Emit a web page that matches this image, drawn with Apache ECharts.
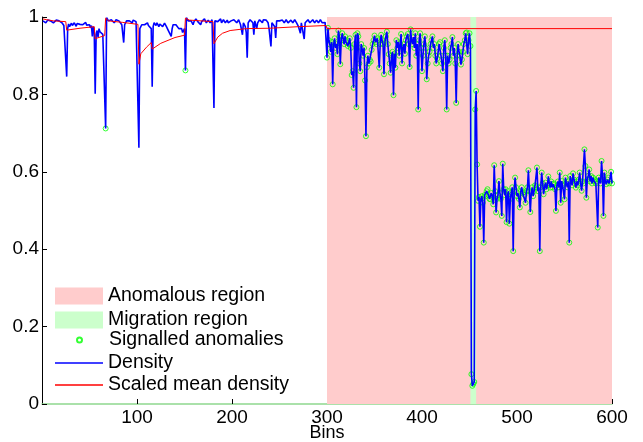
<!DOCTYPE html>
<html>
<head>
<meta charset="utf-8">
<script src="https://cdn.jsdelivr.net/npm/echarts@6/dist/echarts.min.js"></script>
<style>html,body{margin:0;padding:0;background:#fff;}#c{width:643px;height:442px;}</style>
</head>
<body>
<div id="c"></div>
<script>
// Density per bin (bins 1..600)
var density = [
0.99,0.995,0.993,0.985,0.99,0.992,0.988,0.994,0.99,0.986,0.99,0.985,0.988,0.99,0.992,0.989,0.987,0.99,0.991,0.99,
0.985,0.98,0.978,0.983,0.975,0.846,0.97,0.982,0.975,0.98,0.984,0.978,0.982,0.985,0.98,0.976,0.983,0.98,0.985,0.981,
0.978,0.984,0.98,0.976,0.982,0.986,0.979,0.983,0.975,0.98,0.972,0.978,0.95,0.975,0.96,0.802,0.955,0.965,0.948,0.97,
0.962,0.958,0.965,0.955,0.96,0.95,0.712,0.998,0.995,0.99,0.992,0.988,0.993,0.995,0.99,0.985,0.99,0.993,0.988,0.992,
0.99,0.985,0.988,0.98,0.975,0.934,0.98,0.985,0.99,0.992,0.988,0.99,0.993,0.99,0.985,0.992,0.99,0.995,0.988,0.99,
0.985,0.662,0.97,0.975,0.98,0.978,0.985,0.98,0.976,0.982,0.985,0.978,0.975,0.98,0.97,0.82,0.975,0.985,0.98,0.978,
0.985,0.98,0.975,0.982,0.986,0.98,0.975,0.978,0.984,0.98,0.975,0.97,0.965,0.97,0.96,0.95,0.97,0.98,0.975,0.985,
0.98,0.975,0.978,0.97,0.965,0.975,0.97,0.96,0.958,0.97,0.862,0.998,0.995,0.99,0.993,0.985,0.99,0.985,0.98,0.988,
0.993,0.995,0.99,0.988,0.992,0.985,0.98,0.988,0.993,0.99,0.995,0.99,0.985,0.99,0.992,0.988,0.985,0.99,0.993,0.99,
0.765,0.99,0.995,0.992,0.988,0.993,0.99,0.995,0.985,0.99,0.993,0.988,0.985,0.99,0.992,0.985,0.98,0.988,0.99,0.985,
0.99,0.993,0.988,0.99,0.985,0.99,0.993,0.988,0.98,0.975,0.954,0.985,0.99,0.975,0.96,0.895,0.985,0.99,0.993,0.988,
0.99,0.985,0.954,0.99,0.993,0.97,0.985,0.99,0.993,0.988,0.99,0.985,0.993,0.99,0.988,0.992,0.99,0.985,0.97,0.975,
0.924,0.985,0.99,0.988,0.975,0.946,0.99,0.993,0.988,0.99,0.985,0.99,0.992,0.988,0.985,0.99,0.993,0.99,0.985,0.988,
0.99,0.992,0.988,0.985,0.99,0.993,0.99,0.985,0.98,0.975,0.97,0.958,0.985,0.99,0.98,0.943,0.985,0.99,0.988,0.993,
0.99,0.985,0.988,0.99,0.993,0.988,0.985,0.99,0.992,0.988,0.985,0.99,0.993,0.99,0.985,0.988,0.99,0.986,0.99,0.895,
0.972,0.94,0.929,0.91,0.935,0.826,0.93,0.945,0.92,0.93,0.904,0.965,0.95,0.878,0.94,0.958,0.945,0.93,0.95,0.935,
0.94,0.925,0.93,0.945,0.92,0.85,0.86,0.817,0.93,0.954,0.767,0.958,0.95,0.88,0.86,0.93,0.917,0.9,0.92,0.836,
0.692,0.87,0.9,0.88,0.89,0.885,0.915,0.93,0.94,0.952,0.935,0.93,0.945,0.94,0.869,0.93,0.954,0.94,0.93,0.852,
0.935,0.95,0.962,0.93,0.904,0.88,0.856,0.9,0.91,0.798,0.905,0.869,0.94,0.92,0.935,0.9,0.93,0.956,0.88,0.92,
0.93,0.905,0.94,0.95,0.956,0.93,0.871,0.968,0.94,0.93,0.948,0.92,0.958,0.9,0.93,0.761,0.94,0.958,0.92,0.86,
0.9,0.93,0.95,0.92,0.839,0.88,0.9,0.91,0.93,0.94,0.95,0.92,0.93,0.9,0.88,0.892,0.91,0.93,0.935,0.9,
0.88,0.86,0.92,0.94,0.9,0.761,0.9,0.88,0.89,0.92,0.93,0.948,0.9,0.92,0.88,0.778,0.9,0.93,0.91,0.9,
0.877,0.89,0.91,0.93,0.94,0.958,0.96,0.904,0.94,0.958,0.925,0.077,0.047,0.052,0.057,0.761,0.809,0.619,0.525,0.535,
0.458,0.53,0.537,0.52,0.417,0.54,0.537,0.55,0.555,0.54,0.53,0.529,0.545,0.535,0.516,0.617,0.55,0.495,0.53,0.54,
0.576,0.545,0.53,0.486,0.621,0.555,0.54,0.555,0.47,0.54,0.55,0.466,0.53,0.547,0.56,0.395,0.55,0.585,0.56,0.537,
0.545,0.53,0.508,0.55,0.56,0.545,0.547,0.54,0.52,0.55,0.56,0.604,0.55,0.496,0.545,0.56,0.537,0.55,0.565,0.56,
0.611,0.55,0.56,0.395,0.56,0.598,0.57,0.542,0.56,0.572,0.555,0.565,0.588,0.57,0.559,0.575,0.56,0.568,0.57,0.555,
0.499,0.565,0.575,0.56,0.598,0.52,0.576,0.565,0.57,0.529,0.585,0.57,0.56,0.575,0.417,0.589,0.575,0.565,0.596,0.58,
0.57,0.559,0.575,0.565,0.58,0.598,0.57,0.551,0.575,0.57,0.658,0.615,0.533,0.58,0.59,0.606,0.575,0.589,0.57,0.585,
0.576,0.58,0.57,0.575,0.456,0.585,0.578,0.57,0.628,0.59,0.486,0.598,0.575,0.568,0.58,0.585,0.57,0.575,0.6,0.57
];
// Scaled mean density: [bin, value] breakpoints
var meanBins = [1,5,12,25,26,40,55,56,66,67,70,85,86,101,102,104,110,115,116,125,140,150,151,155,180,181,185,190,198,215,216,240,270,299,300,600];
var meanVals = [0.995,0.993,0.99,0.988,0.966,0.971,0.975,0.944,0.952,0.997,0.99,0.986,0.983,0.981,0.878,0.905,0.922,0.934,0.917,0.932,0.947,0.953,0.997,0.992,0.988,0.931,0.948,0.958,0.965,0.97,0.966,0.971,0.975,0.978,0.97,0.97];
// Signalled anomalies: individual bins plus all bins from anomalyFrom on
var signalledBins = [67, 151];
var anomalyFrom = 300;
// Regions
var anomalousRegion = [300, 600];
var migrationRegion = [451, 457];
var xTicks = [0, 100, 200, 300, 400, 500, 600];

var densityData = density.map(function (v, i) { return [i + 1, v]; });
var meanData = meanBins.map(function (b, i) { return [b, meanVals[i]]; });
var sigData = [];
signalledBins.forEach(function (b) { sigData.push([b, density[b - 1]]); });
for (var b = anomalyFrom; b <= density.length; b++) sigData.push([b, density[b - 1]]);

var FONT = 'Liberation Sans, Arial, Helvetica, sans-serif';
var chart = echarts.init(document.getElementById('c'), null, { renderer: 'canvas' });
chart.setOption({
  animation: false,
  backgroundColor: '#fff',
  grid: { left: 42, right: 31, top: 17, bottom: 38, containLabel: false, outerBoundsMode: 'none' },
  xAxis: {
    type: 'value', min: xTicks[0], max: xTicks[xTicks.length - 1], interval: 100,
    name: 'Bins', nameLocation: 'middle', nameGap: 29, nameMoveOverlap: false,
    nameTextStyle: { fontFamily: FONT, fontSize: 18, color: '#000', verticalAlign: 'middle' },
    axisLine: { lineStyle: { color: '#8fd88f', width: 1.5 } },
    axisTick: { inside: true, length: 5, lineStyle: { color: '#000' } },
    axisLabel: { showMinLabel: false, fontFamily: FONT, fontSize: 19, color: '#000', margin: 4 },
    splitLine: { show: false }
  },
  yAxis: {
    type: 'value', min: 0, max: 1, interval: 0.2,
    axisLine: { show: true, lineStyle: { color: '#000', width: 1 } },
    axisTick: { show: true, inside: true, length: 5, lineStyle: { color: '#000' } },
    axisLabel: { fontFamily: FONT, fontSize: 19, color: '#000', margin: 3,
      formatter: function (v) { return (v === 0 || v === 1) ? String(v) : v.toFixed(1); } },
    splitLine: { show: false }
  },
  legend: [
    { orient: 'vertical', left: 55, top: 286, itemWidth: 48, itemHeight: 17, itemGap: 4, icon: 'rect', padding: 0,
      textStyle: { fontFamily: FONT, fontSize: 19.5, color: '#000' },
      data: [
        { name: 'Anomalous region', itemStyle: { color: '#ffcccc' } },
        { name: 'Migration region', itemStyle: { color: '#ccffcc' } }
      ] },
    { orient: 'vertical', left: 76, top: 330, itemWidth: 5, itemHeight: 5, itemGap: 0, padding: 0,
      textStyle: { fontFamily: FONT, fontSize: 19.5, color: '#000', padding: [0, 0, 0, 22] },
      data: [{ name: 'Signalled anomalies', icon: 'circle' }] },
    { orient: 'vertical', left: 55, top: 353, itemWidth: 48, itemHeight: 1.5, itemGap: 2, padding: 0, icon: 'rect',
      textStyle: { fontFamily: FONT, fontSize: 19.5, color: '#000' },
      data: [
        { name: 'Density', itemStyle: { color: '#0000ff' } },
        { name: 'Scaled mean density', itemStyle: { color: '#ff0000' } }
      ] }
  ],
  series: [
    { name: 'Anomalous region', type: 'line', data: [], symbol: 'none', silent: true,
      itemStyle: { color: '#ffcccc' },
      markArea: { silent: true, itemStyle: { color: '#ffcccc', opacity: 1 },
        data: [[{ xAxis: anomalousRegion[0] }, { xAxis: anomalousRegion[1] }]] } },
    { name: 'Migration region', type: 'line', data: [], symbol: 'none', silent: true,
      itemStyle: { color: '#ccffcc' },
      markArea: { silent: true, itemStyle: { color: '#ccffcc', opacity: 1 },
        data: [[{ xAxis: migrationRegion[0] }, { xAxis: migrationRegion[1] }]] } },
    { name: 'Signalled anomalies', type: 'scatter', data: sigData, symbol: 'circle', symbolSize: 5, z: 3,
      itemStyle: { color: 'rgba(0,0,0,0)', borderColor: '#00ff00', borderWidth: 1 } },
    { name: 'Density', type: 'line', data: densityData, symbol: 'none', z: 4,
      lineStyle: { color: '#0000ff', width: 1.6 }, itemStyle: { color: '#0000ff' } },
    { name: 'Scaled mean density', type: 'line', data: meanData, symbol: 'none', z: 5,
      lineStyle: { color: '#ff0000', width: 1 }, itemStyle: { color: '#ff0000' } }
  ]
});
</script>
</body>
</html>
